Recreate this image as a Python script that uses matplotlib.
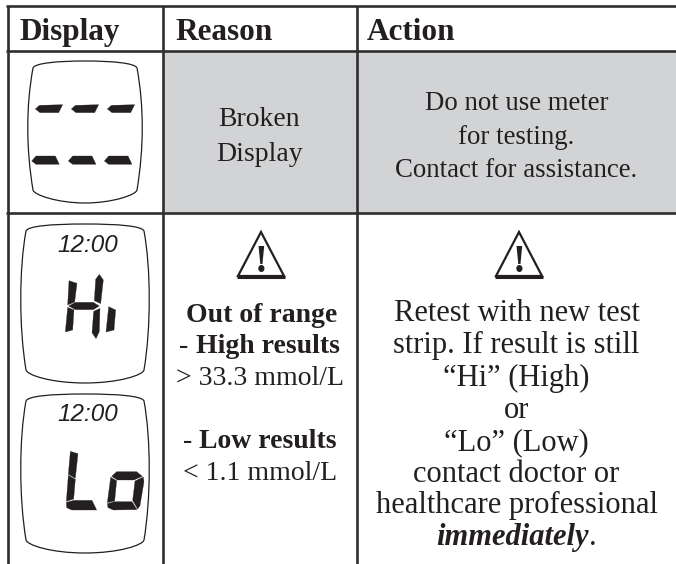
import matplotlib
matplotlib.use("Agg")
import matplotlib.pyplot as plt
from matplotlib.path import Path
from matplotlib.patches import PathPatch, Polygon, Rectangle

headers = ["Display", "Reason", "Action"]
broken_reason = ["Broken", "Display"]
broken_action = ["Do not use meter", "for testing.", "Contact for assistance."]
range_action = ["Retest with new test", "strip. If result is still", "\u201cHi\u201d (High)", "or",
                "\u201cLo\u201d (Low)", "contact doctor or", "healthcare professional"]
clock = "12:00"

INK = "#231f20"
LINE = "#2f2e2f"
GRAY = "#d1d3d4"
SERIF = "Liberation Serif"

fig = plt.figure(figsize=(6.76, 5.64), dpi=100)
ax = fig.add_axes([0, 0, 1, 1])
ax.set_xlim(0, 676)
ax.set_ylim(564, 0)
ax.axis("off")

# table frame, open on the right and at the bottom
ax.add_patch(Rectangle((163, 51), 513, 162, fc=GRAY, ec="none"))
for y in [6, 50.5, 213]:
    ax.plot([6, 676], [y, y], color=LINE, lw=1.9, solid_capstyle="butt")
for x in [7.5, 162.5, 356.5]:
    ax.plot([x, x], [6, 564], color=LINE, lw=1.9, solid_capstyle="butt")


def put(x, y, s, size=20, **kw):
    return ax.text(x, y, s, fontsize=size, family=SERIF, color=INK, ha="center", va="baseline", **kw)


def runs(cx, y, parts, size=20):
    # mixed weight line, centred by hand
    r = fig.canvas.get_renderer()
    items = [ax.text(0, y, s, fontsize=size, family=SERIF, color=INK, va="baseline", **kw) for s, kw in parts]
    inv = ax.transData.inverted()
    widths = []
    for t in items:
        b = t.get_window_extent(r)
        widths.append(inv.transform((b.x1, 0))[0] - inv.transform((b.x0, 0))[0])
    x = cx - sum(widths) / 2
    for t, w in zip(items, widths):
        t.set_x(x)
        x += w


# header row
for x, s in zip([20, 175, 367], headers):
    ax.text(x, 40, s, fontsize=22.5, family=SERIF, weight="bold", color=INK, va="baseline")

# broken display row
for y, s in zip([126, 161], broken_reason):
    put(259.5, y, s, size=20)
for y, s in zip([110, 144, 177], broken_action):
    put(516.5, y, s, size=19.3)

# out of range row
for cx in [261, 519]:
    ax.add_patch(Polygon([(cx, 232), (cx + 23, 276), (cx - 23, 276)], closed=True, fc="none", ec=INK, lw=1.6))
    ax.plot([cx - 24, cx + 24], [276.5, 276.5], color=INK, lw=2.2, solid_capstyle="butt")
    ax.text(cx, 272, "!", fontsize=28, family=SERIF, weight="bold", color=INK, ha="center", va="baseline")

put(262, 322, "Out of range", weight="bold")
runs(259.5, 353, [("- ", {}), ("High results", {"weight": "bold"})])
put(259.5, 385, "> 33.3 mmol/L")
runs(259.5, 448, [("- ", {}), ("Low results", {"weight": "bold"})])
put(260, 480, "< 1.1 mmol/L")

for y, s in zip([321, 353, 386, 418, 450, 482, 513], range_action):
    put(516.5, y, s, size=22)
runs(516.5, 545, [("immediately", {"weight": "bold", "style": "italic"}), (".", {})], size=22)


def lcd(x0, x1, y0, y1):
    # meter screen outline with bulged sides
    w = 6
    h = 7
    xl, xr = x0 + w, x1 - w
    v = [(xl, y0 + h), (xl + 2, y0 + 2), (xl + 25, y0), ((x0 + x1) / 2, y0),
         (xr - 25, y0), (xr - 2, y0 + 2), (xr, y0 + h),
         (x1 + 1, y0 + 45), (x1 + 1, y1 - 55), (xr, y1 - 13),
         (xr - 1, y1 - 8), (xr - 25, y1), ((x0 + x1) / 2, y1),
         (xl + 25, y1), (xl + 1, y1 - 8), (xl, y1 - 13),
         (x0 - 1, y1 - 55), (x0 - 1, y0 + 45), (xl, y0 + h)]
    codes = [Path.MOVETO] + [Path.CURVE4] * 18
    ax.add_patch(PathPatch(Path(v, codes), fc="none", ec=INK, lw=0.9))


def shape(points, ox=0, oy=0, scale=1 / 3):
    ax.add_patch(Polygon([(ox + px * scale, oy + py * scale) for px, py in points],
                         closed=True, fc=INK, ec=INK, lw=0.2))


lcd(27, 143, 61, 203)
lcd(20, 150, 224, 383)
lcd(20, 150, 394, 553)

# dashes on the broken screen
dash_top = [(106, 327), (118, 316), (188, 314), (176, 338), (120, 338)]
dash_low = [(95, 483), (108, 468), (166, 468), (178, 493), (108, 493)]
for dx in [0, 108, 216]:
    shape([(px + dx, py) for px, py in dash_top])
for dx in [0, 110, 218]:
    shape([(px + dx, py) for px, py in dash_low])

# Hi
shape([(207, 272), (231, 280), (224, 336), (203, 345)], 0, 190)
shape([(203, 352), (222, 360), (218, 420), (196, 426)], 0, 190)
shape([(206, 348), (226, 337), (280, 337), (298, 348), (280, 359), (226, 359)], 0, 190)
shape([(298, 253), (310, 270), (302, 341), (283, 332), (287, 268)], 0, 190)
shape([(281, 364), (300, 355), (298, 425), (288, 446), (276, 428)], 0, 190)
shape([(326, 350), (347, 360), (342, 420), (318, 426)], 0, 190)

# Lo
shape([(211, 229), (234, 236), (226, 310), (205, 298)], 0, 375)
shape([(205, 301), (226, 313), (221, 372), (199, 379)], 0, 375)
shape([(199, 382), (222, 376), (276, 376), (290, 405), (215, 405), (200, 398)], 0, 375)
shape([(335, 304), (350, 290), (410, 290), (427, 304), (402, 315), (352, 315)], 0, 375)
shape([(332, 307), (350, 317), (344, 378), (322, 383)], 0, 375)
shape([(430, 306), (432, 320), (420, 392), (413, 402), (398, 376), (405, 318)], 0, 375)
shape([(322, 386), (344, 380), (396, 380), (411, 404), (340, 405), (324, 398)], 0, 375)

# clock on both screens
for y in [252, 421]:
    ax.text(87.5, y, clock, fontsize=17.5, family="Liberation Sans", style="italic",
            color=INK, ha="center", va="baseline")

fig.savefig("out.png", dpi=100)
